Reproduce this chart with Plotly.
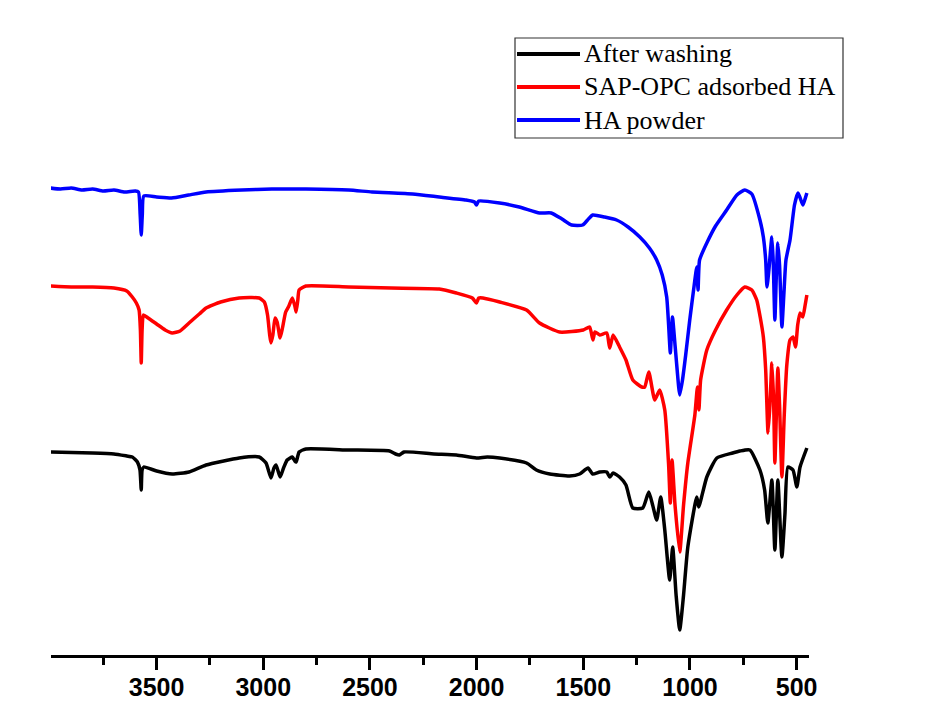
import plotly.graph_objects as go

# ---------------- data (wavenumber cm-1, transmittance a.u., curves offset) ----------------
wn_ha = [4000, 3950, 3900, 3850, 3800, 3750, 3700, 3650, 3600, 3585, 3577, 3572, 3567, 3560,
         3500, 3430, 3350, 3268, 3100, 2960, 2800, 2600, 2490, 2300, 2175, 2050, 2010, 2001,
         1990, 1892, 1800, 1705, 1650, 1600, 1555, 1503, 1480, 1456, 1400, 1344, 1290, 1235,
         1190, 1156, 1130, 1109, 1100, 1092, 1082, 1070, 1060, 1048, 1035, 1020, 1001, 980,
         968, 962, 955, 921, 880, 828, 780, 743, 710, 672, 656, 645, 639, 630, 616, 610, 602,
         595, 588, 580, 569, 560, 550, 531, 510, 494, 485, 471, 462, 452]
t_ha = [467, 466, 467, 465, 466, 464, 465, 463, 464, 463, 440, 420, 440, 459,
        458, 457, 460, 463, 465, 466, 466, 465, 463, 461, 458, 455, 453, 450,
        454, 452, 448, 442, 442, 436, 430, 430, 435, 440, 438, 435, 428, 418,
        407, 395, 380, 358, 330, 302, 338, 310, 285, 260, 275, 300, 335, 370,
        388, 365, 395, 412, 429, 445, 460, 465, 461, 435, 418, 395, 368, 385, 418, 395, 335,
        380, 412, 390, 328, 360, 395, 415, 450, 462, 458, 450, 455, 462]

wn_sap = [4000, 3900, 3800, 3700, 3640, 3614, 3595, 3582, 3576, 3572, 3568, 3562, 3540, 3500,
          3460, 3427, 3390, 3348, 3300, 3268, 3200, 3113, 3019, 2995, 2980, 2970, 2964, 2955,
          2945, 2935, 2921, 2910, 2895, 2880, 2864, 2852, 2846, 2838, 2832, 2800, 2600, 2400,
          2175, 2095, 2020, 2001, 1990, 1971, 1892, 1766, 1705, 1611, 1500, 1470, 1455, 1445,
          1423, 1390, 1376, 1360, 1330, 1300, 1268, 1226, 1212, 1193, 1165, 1142, 1118, 1100,
          1092, 1084, 1070, 1048, 1030, 1010, 977, 965, 958, 950, 921, 880, 828, 780, 743, 710,
          687, 670, 656, 645, 634, 625, 616, 608, 602, 595, 588, 580, 569, 558, 546, 531, 517,
          505, 495, 484, 471, 460, 452]
t_sap = [369, 368, 368, 367, 364, 358, 352, 345, 325, 292, 325, 340, 337, 331,
         325, 322, 324, 332, 341, 347, 353, 357, 357, 353, 340, 320, 312, 320,
         337, 333, 317, 327, 343, 349, 357, 349, 343, 355, 365, 369, 368, 367,
         366, 362, 357, 352, 357, 357, 353, 345, 332, 323, 325, 328, 315, 323,
         320, 322, 307, 320, 308, 295, 275, 268, 268, 283, 255, 265, 245, 190,
         152, 195, 150, 103, 150, 192, 240, 268, 245, 275, 305, 325, 345, 360, 368, 365,
         355, 337, 318, 285, 222, 250, 292, 255, 192, 240, 287, 250, 178, 240, 290, 315, 318,
         308, 330, 342, 338, 350, 360]

wn_wash = [4000, 3800, 3700, 3640, 3614, 3590, 3578, 3572, 3568, 3560, 3500, 3427, 3348, 3268,
           3113, 3019, 2987, 2964, 2950, 2940, 2921, 2905, 2888, 2864, 2852, 2846, 2832, 2800,
           2600, 2408, 2380, 2362, 2340, 2200, 2095, 2001, 1950, 1892, 1766, 1720, 1657, 1564,
           1517, 1478, 1456, 1423, 1390, 1376, 1360, 1330, 1300, 1268, 1221, 1193, 1175, 1156,
           1137, 1118, 1095, 1081, 1065, 1048, 1030, 1010, 968, 959, 921, 874, 800, 766, 719,
           672, 650, 635, 616, 602, 588, 569, 555, 541, 517, 499, 484, 452]
t_wash = [203, 202, 201, 199, 198, 193, 185, 165, 185, 188, 184, 181, 183, 190,
          197, 198, 192, 177, 187, 190, 178, 187, 195, 198, 194, 193, 203, 206,
          205, 204, 201, 200, 203, 201, 200, 197, 198, 197, 192, 185, 181, 179,
          181, 187, 181, 183, 183, 178, 182, 178, 170, 147, 147, 163, 150, 135,
          158, 125, 75, 108, 60, 25, 60, 108, 158, 148, 178, 197, 202, 204, 205,
          185, 165, 132, 175, 105, 175, 98, 140, 188, 185, 168, 188, 207]

series_names = ["After washing", "SAP-OPC adsorbed HA", "HA powder"]
series_colors = ["#000000", "#FF0000", "#0000FF"]
x_tickvals = [500, 1000, 1500, 2000, 2500, 3000, 3500]

# ---------------- figure ----------------
fig = go.Figure()
for wn, t, name, col in [(wn_wash, t_wash, series_names[0], series_colors[0]),
                          (wn_sap, t_sap, series_names[1], series_colors[1]),
                          (wn_ha, t_ha, series_names[2], series_colors[2])]:
    fig.add_trace(go.Scatter(x=wn, y=t, mode="lines", name=name, showlegend=False,
                             line=dict(color=col, width=3.5, shape="spline", smoothing=0.5)))

L, R, T, B = 51, 138, 30, 56
W, H = 947, 711
pw, ph = W - L - R, H - T - B

def px(xp):
    return (xp - L) / pw

def py(yp):
    return (H - B - yp) / ph

# manual legend (long line samples like the original)
shapes = [dict(type="rect", xref="paper", yref="paper", x0=px(515), x1=px(843), y0=py(138), y1=py(38),
               line=dict(color="#333333", width=1.2), fillcolor="white", layer="above")]
annotations = []
rows = [54, 87, 120]
for i, (name, col) in enumerate(zip(series_names, series_colors)):
    shapes.append(dict(type="line", xref="paper", yref="paper", x0=px(517), x1=px(580),
                       y0=py(rows[i]), y1=py(rows[i]), line=dict(color=col, width=4), layer="above"))
    annotations.append(dict(text=name, xref="paper", yref="paper", x=px(582), y=py(rows[i]),
                            xanchor="left", yanchor="middle", showarrow=False,
                            font=dict(family="Liberation Serif, Times New Roman, serif", size=26, color="black")))

fig.update_layout(
    width=W, height=H,
    margin=dict(l=L, r=R, t=T, b=B, autoexpand=False),
    paper_bgcolor="white", plot_bgcolor="white",
    xaxis=dict(range=[3995, 442], showline=True, linecolor="black", linewidth=3,
               ticks="outside", ticklen=12, tickwidth=3, tickcolor="black",
               tickmode="array", tickvals=x_tickvals, automargin=False, ticklabelstandoff=-4,
               tickfont=dict(family="Liberation Sans, Arial, sans-serif", size=25, color="black", weight="bold"),
               minor=dict(ticks="outside", ticklen=7, tickwidth=3, tickcolor="black",
                          tickmode="linear", tick0=250, dtick=500),
               showgrid=False, zeroline=False, mirror=False),
    yaxis=dict(visible=False, range=[0, 625], showgrid=False, zeroline=False, automargin=False),
    shapes=shapes, annotations=annotations,
)

fig.write_html("out.html")
